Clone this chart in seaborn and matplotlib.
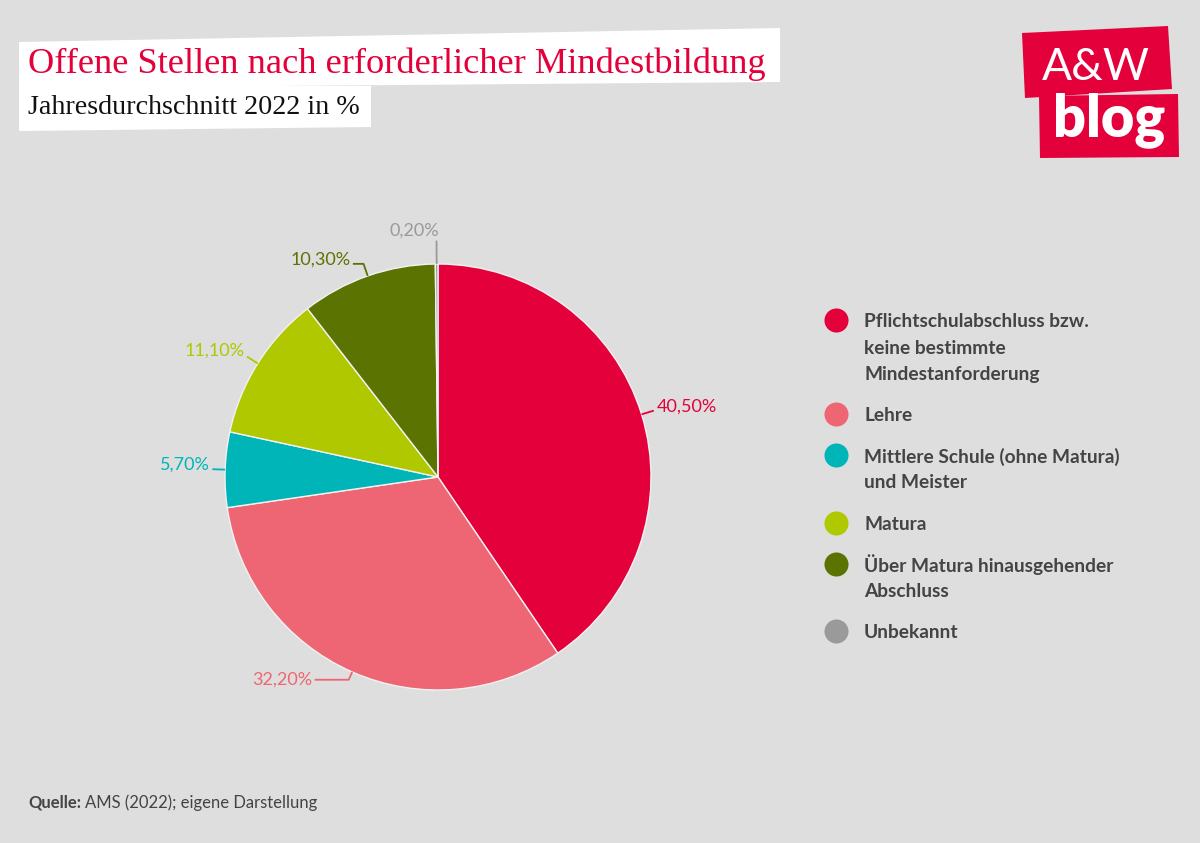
import numpy as np
import matplotlib
matplotlib.use("Agg")
import matplotlib.pyplot as plt
import seaborn as sns


# DATA

categories = [
    "Pflichtschulabschluss bzw.\nkeine bestimmte\nMindestanforderung",
    "Lehre",
    "Mittlere Schule (ohne Matura)\nund Meister",
    "Matura",
    "Über Matura hinausgehender\nAbschluss",
    "Unbekannt",
]
shares = [40.5, 32.2, 5.7, 11.1, 10.3, 0.2]
share_labels = ["40,50%", "32,20%", "5,70%", "11,10%", "10,30%", "0,20%"]
colors = ["#e4003a", "#ee6673", "#00b5b8", "#afc800", "#5b7300", "#9a9a9a"]

title = "Offene Stellen nach erforderlicher Mindestbildung"
subtitle = "Jahresdurchschnitt 2022 in %"
source_bold = "Quelle:"
source_rest = "AMS (2022); eigene Darstellung"

# leader line styles per slice: elbow radius, horizontal run, text lift
leader_style = [
    (1.06, 0.00, 0.02),
    (1.04, 0.16, 0.00),
    (1.06, 0.00, 0.02),
    (1.06, 0.00, 0.03),
    (1.06, 0.05, 0.02),
    (1.11, 0.00, 0.00),
]

BG = "#dedede"
RED = "#e4003a"
TXT = "#444444"

sns.set_theme(style="white")
plt.rcParams["font.family"] = ["Lato", "DejaVu Sans"]

W, H = 1200, 843
fig = plt.figure(figsize=(W / 100, H / 100), dpi=100, facecolor=BG)

# PIE
cx, cy, r = 438, 477, 213
ax = fig.add_axes([(cx - r) / W, (H - cy - r) / H, 2 * r / W, 2 * r / H])
ax.set_facecolor("none")
wedges, _ = ax.pie(shares, colors=sns.color_palette(colors), startangle=90,
                   counterclock=False, radius=1,
                   wedgeprops=dict(edgecolor="#f2f2f2", linewidth=1))
ax.set_xlim(-1, 1)
ax.set_ylim(-1, 1)
ax.set_axis_off()

for w, lab, col, (re, hl, dy) in zip(wedges, share_labels, colors, leader_style):
    ang = np.deg2rad((w.theta1 + w.theta2) / 2)
    ca, sa = np.cos(ang), np.sin(ang)
    ex, ey = re * ca, re * sa
    side = 1 if ca > 0.05 else -1
    if abs(ca) < 0.05:
        # tiny slice at the top: vertical leader, label to the left above
        ax.plot([ca, ex], [sa, ey], color=col, lw=1.3, clip_on=False,
                solid_capstyle="butt")
        ax.text(ex + 0.01, ey + 0.01, lab, color=col, fontsize=13,
                ha="right", va="bottom", clip_on=False)
        continue
    tx = ex + side * hl
    ax.plot([ca, ex, tx], [sa, ey, ey], color=col, lw=1.3, clip_on=False,
            solid_capstyle="butt")
    ax.text(tx + side * 0.012, ey + dy, lab, color=col, fontsize=13,
            ha="left" if side > 0 else "right", va="center", clip_on=False)

# OVERLAY (pixel coordinates)
ov = fig.add_axes([0, 0, 1, 1])
ov.set_xlim(0, W)
ov.set_ylim(H, 0)
ov.set_axis_off()
ov.set_facecolor("none")

# white title boxes
ov.fill([19, 780, 780, 19], [42, 28, 82, 88], color="white", lw=0)
ov.fill([19, 371, 371, 19], [86, 86, 127, 131], color="white", lw=0)

t_title = ov.text(28, 73, title, color=RED, fontsize=26, ha="left",
                  va="baseline", family=["Liberation Serif", "DejaVu Serif"])
t_sub = ov.text(28, 114, subtitle, color="#111111", fontsize=19, ha="left",
                va="baseline", family=["Liberation Serif", "DejaVu Serif"])

# logo
ov.fill([1022, 1168, 1172, 1025], [33, 26, 89, 98], color=RED, lw=0)
ov.fill([1039, 1178, 1179, 1040], [96, 94, 157, 158], color=RED, lw=0)
t_aw = ov.text(1042, 80, "A&W", color="white", fontsize=40, ha="left",
               va="baseline", fontweight="normal")
t_blog = ov.text(1053, 136, "blog", color="white", fontsize=38, ha="left",
                 va="baseline", fontweight="heavy")

# legend
y = 320
line_h, gap = 26.5, 41
for cat, col in zip(categories, colors):
    ov.scatter([836], [y], s=300, color=col, lw=0)
    lines = cat.split("\n")
    for i, ln in enumerate(lines):
        ov.text(864, y + i * line_h, ln, color=TXT, fontsize=13.8,
                fontweight="bold", ha="left", va="center_baseline")
    y += (len(lines) - 1) * line_h + gap

# source
t_qb = ov.text(28, 808, source_bold, color=TXT, fontsize=12,
               fontweight="bold", ha="left", va="baseline")

fig.canvas.draw()
rend = fig.canvas.get_renderer()


def fit_width(txt, target):
    wpx = txt.get_window_extent(rend).width
    txt.set_fontsize(txt.get_fontsize() * target / wpx)


fit_width(t_title, 737)
fit_width(t_sub, 332)
fit_width(t_aw, 108)
fit_width(t_blog, 112)

qb_w = t_qb.get_window_extent(rend).width
ov.text(28 + qb_w + 4, 808, source_rest, color=TXT, fontsize=12,
        ha="left", va="baseline")

fig.savefig("out.png", dpi=100, facecolor=BG)
